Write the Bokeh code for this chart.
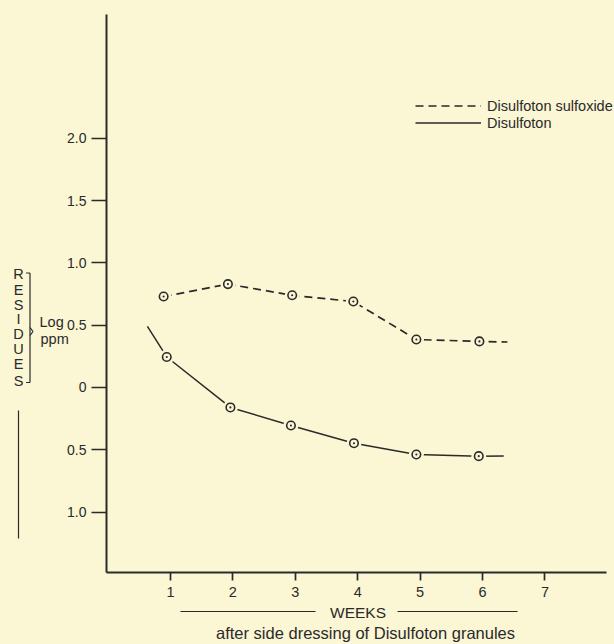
from bokeh.plotting import figure
from bokeh.models import (FixedTicker, Label, Arrow, Legend, LegendItem, Range1d)
from bokeh.embed import file_html
from bokeh.resources import INLINE

# ---------------- data ----------------
sulf_weeks = [0.89, 1.92, 2.95, 3.93, 4.94, 5.95]
sulf_log_ppm = [0.73, 0.83, 0.74, 0.69, 0.385, 0.37]
sulf_line_weeks = [0.89, 1.92, 2.95, 3.93, 4.94, 5.95, 6.40]
sulf_line_log = [0.73, 0.83, 0.74, 0.69, 0.385, 0.37, 0.365]

dis_weeks = [0.94, 1.96, 2.93, 3.94, 4.94, 5.94]
dis_log_ppm = [0.245, -0.16, -0.305, -0.447, -0.538, -0.551]
dis_line_weeks = [0.63, 0.94, 1.96, 2.93, 3.94, 4.94, 5.94, 6.34]
dis_line_log = [0.49, 0.245, -0.16, -0.305, -0.447, -0.538, -0.551, -0.55]

x_ticks = [1, 2, 3, 4, 5, 6, 7]
y_ticks = [-1.0, -0.5, 0.0, 0.5, 1.0, 1.5, 2.0]
y_tick_labels = ["1.0", "0.5", "0", "0.5", "1.0", "1.5", "2.0"]

series_names = ["Disulfoton sulfoxide", "Disulfoton"]
y_title_letters = "RESIDUES"
unit_lines = ["Log", "ppm"]
x_title = "WEEKS"
x_caption = "after side dressing of Disulfoton granules"

# ---------------- style ----------------
BG = "#fbf6d4"
INK = "#2a2a2a"
FONT = "Liberation Sans"

W, H = 614, 644
# axis extents (data) and where they sit on the page (px)
X0, X1 = -0.0256, 7.987
Y0, Y1 = -1.4848, 2.9936
FL, FR, FT, FB = 106, 606, 14, 572


def px2x(px):
    return X0 + (px - FL) / (FR - FL) * (X1 - X0)


def py2y(py):
    return Y1 - (py - FT) / (FB - FT) * (Y1 - Y0)


p = figure(width=W, height=H, output_backend="svg", toolbar_location=None,
           x_range=Range1d(px2x(0), px2x(W)), y_range=Range1d(py2y(H), py2y(0)),
           min_border_left=0, min_border_right=0, min_border_top=0,
           min_border_bottom=0)
p.background_fill_color = BG
p.border_fill_color = BG
p.outline_line_color = None
p.xgrid.visible = False
p.ygrid.visible = False

for ax in (p.xaxis[0], p.yaxis[0]):
    ax.axis_line_color = INK
    ax.axis_line_width = 2
    ax.major_tick_line_color = INK
    ax.major_tick_line_width = 1.7
    ax.minor_tick_line_color = None
    ax.major_tick_in = 0
    ax.major_label_text_font = FONT
    ax.major_label_text_color = INK

p.xaxis.fixed_location = Y0
p.xaxis.bounds = (X0, X1)
p.xaxis.ticker = FixedTicker(ticks=x_ticks)
p.xaxis.major_tick_out = 8
p.xaxis.major_label_standoff = 6
p.xaxis.major_label_text_font_size = "14.5px"

p.yaxis.fixed_location = X0
p.yaxis.bounds = (Y0, Y1)
p.yaxis.ticker = FixedTicker(ticks=y_ticks)
p.yaxis.major_label_overrides = {t: s for t, s in zip(y_ticks, y_tick_labels)}
p.yaxis.major_tick_out = 15
p.yaxis.major_label_standoff = 5
p.yaxis.major_label_text_font_size = "14px"

# ---------------- series ----------------
r_sulf = p.line(sulf_line_weeks, sulf_line_log, line_color=INK, line_width=1.7,
                line_dash="8 5")
r_dis = p.line(dis_line_weeks, dis_line_log, line_color=INK, line_width=1.5)

# gaps around the points
p.scatter(sulf_weeks, sulf_log_ppm, marker="circle", size=15, fill_color=BG,
          line_color=None)
p.scatter(dis_weeks, dis_log_ppm, marker="circle", size=15, fill_color=BG,
          line_color=None)
p.scatter(sulf_weeks, sulf_log_ppm, marker="circle_dot", size=8.5, fill_color=BG,
          line_color=INK, line_width=1.6)
p.scatter(dis_weeks, dis_log_ppm, marker="circle_dot", size=8.5, fill_color=BG,
          line_color=INK, line_width=1.6)

# ---------------- legend ----------------
legend = Legend(items=[LegendItem(label=series_names[0], renderers=[r_sulf]),
                       LegendItem(label=series_names[1], renderers=[r_dis])],
                location=(415, H - 131), orientation="vertical",
                glyph_width=66, glyph_height=17, label_height=17,
                label_standoff=6, spacing=0, padding=0, margin=0,
                border_line_color=None, background_fill_alpha=0,
                label_text_font=FONT, label_text_font_size="14.5px",
                label_text_color=INK, label_text_baseline="middle")
p.add_layout(legend, "center")

# ---------------- axis titles ----------------
def seg(x1, y1, x2, y2, w=1.4):
    p.add_layout(Arrow(end=None, x_start=px2x(x1), y_start=py2y(y1),
                       x_end=px2x(x2), y_end=py2y(y2),
                       line_color=INK, line_width=w))


letter_y = [273, 289.5, 304, 318.5, 333, 348.5, 363.5, 380]
for ch, ly in zip(y_title_letters, letter_y):
    p.add_layout(Label(x=px2x(18), y=py2y(ly), text=ch, text_font=FONT,
                       text_font_size="14.5px", text_color=INK,
                       text_align="center", text_baseline="middle"))

# bracket with brace
seg(25.5, 272.5, 29.5, 272.5, 1.2)
seg(29.5, 272.5, 29.5, 382, 1.2)
seg(29.5, 382, 25.5, 382, 1.2)
seg(29.5, 327, 32.5, 331, 1.2)
seg(32.5, 331, 29.5, 335, 1.2)
# vertical rule under the title
seg(18, 410, 18, 538, 1.2)

p.add_layout(Label(x=px2x(39), y=py2y(321.5), text=unit_lines[0], text_font=FONT,
                   text_font_size="14.5px", text_color=INK,
                   text_align="left", text_baseline="middle"))
p.add_layout(Label(x=px2x(40), y=py2y(338.5), text=unit_lines[1], text_font=FONT,
                   text_font_size="14.5px", text_color=INK,
                   text_align="left", text_baseline="middle"))

p.add_layout(Label(x=px2x(357.5), y=py2y(612), text=x_title, text_font=FONT,
                   text_font_size="15.5px", text_color=INK,
                   text_align="center", text_baseline="middle"))
seg(180, 611, 315, 611, 1.2)
seg(397, 611, 517, 611, 1.2)

p.add_layout(Label(x=px2x(365), y=py2y(632), text=x_caption,
                   text_font=FONT, text_font_size="16.5px",
                   text_color=INK, text_align="center", text_baseline="middle"))

html = file_html(p, INLINE)
html = html.replace("</head>", "<style>body{background:%s}</style></head>" % BG)
open("out.html", "w").write(html)
